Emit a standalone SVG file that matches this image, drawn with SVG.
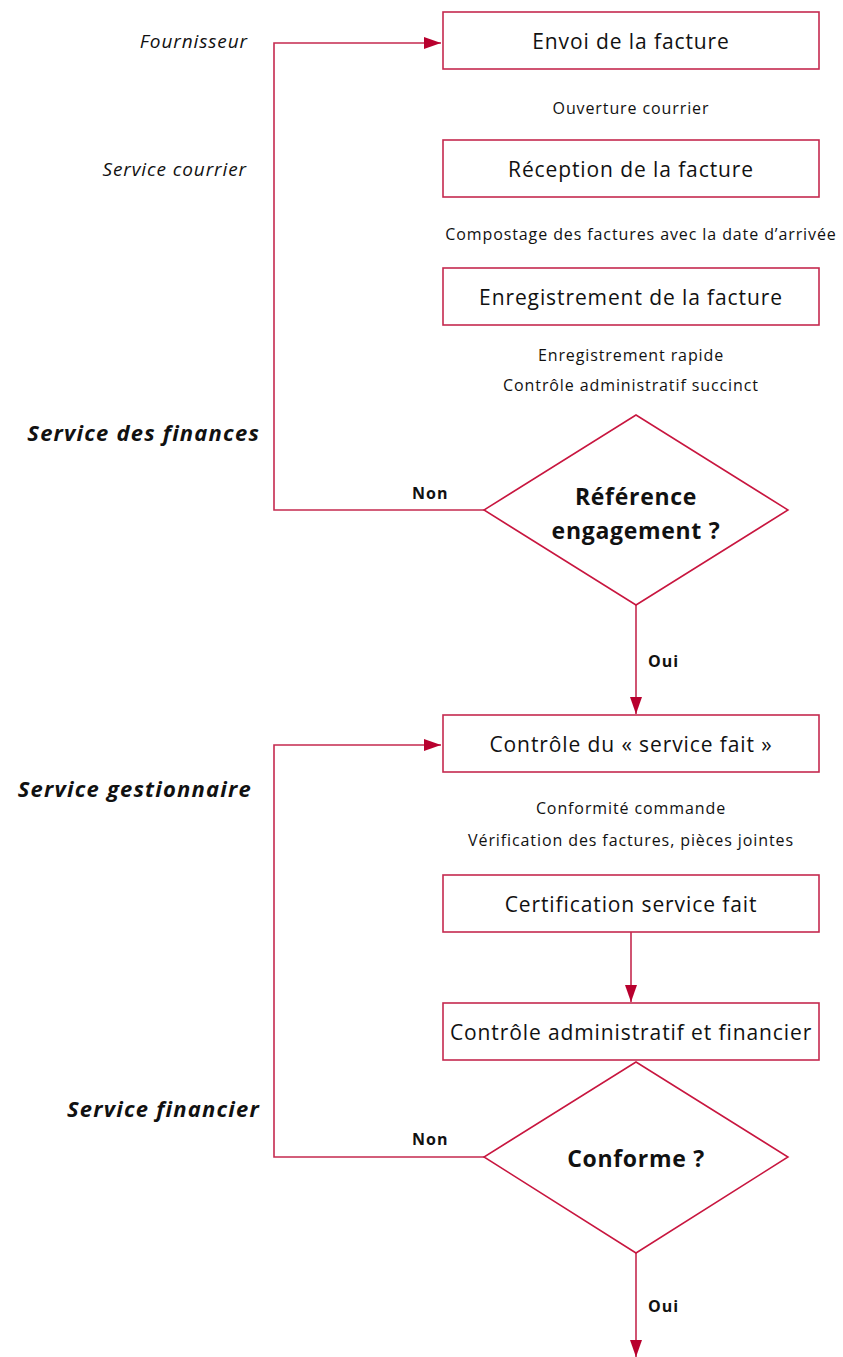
<svg xmlns="http://www.w3.org/2000/svg" width="843" height="1357" viewBox="0 0 843 1357">
<style>
.box{fill:#fff;stroke:#c52a4f;stroke-width:1.6}
.dia{fill:#fff;stroke:#c8163f;stroke-width:1.5}
.ln{fill:none;stroke:#c52a4f;stroke-width:1.6}
.bt{font-family:"Open Sans","Noto Sans","Liberation Sans",sans-serif;font-weight:400;font-size:21px;letter-spacing:0.9px;fill:#111;text-anchor:middle}
.st{font-family:"Open Sans","Noto Sans","Liberation Sans",sans-serif;font-weight:400;font-size:16px;letter-spacing:0.9px;fill:#111;text-anchor:middle}
.dt{font-family:"Open Sans","Noto Sans","Liberation Sans",sans-serif;font-weight:700;font-size:23px;letter-spacing:0.7px;fill:#111;text-anchor:middle}
.lb{font-family:"Open Sans","Noto Sans","Liberation Sans",sans-serif;font-weight:700;font-size:16px;letter-spacing:1px;fill:#111}
.li{font-family:"Open Sans","Noto Sans","Liberation Sans",sans-serif;font-style:italic;font-weight:400;font-size:19px;letter-spacing:0.9px;fill:#111;text-anchor:end}
.lbi{font-family:"Open Sans","Noto Sans","Liberation Sans",sans-serif;font-style:italic;font-weight:700;font-size:22px;letter-spacing:1.2px;fill:#111;text-anchor:end}
</style>
<defs>
<marker id="ah" markerWidth="17" markerHeight="12" refX="17" refY="6" orient="auto" markerUnits="userSpaceOnUse">
<path d="M0,0 L17,6 L0,12 Z" fill="#b8002e"/>
</marker>
</defs>
<rect width="843" height="1357" fill="#fff"/>

<g id="lanes">
<text class="li" x="248" y="48">Fournisseur</text>
<text class="li" x="247" y="176">Service courrier</text>
<text class="lbi" x="260" y="441">Service des finances</text>
<text class="lbi" x="252" y="797">Service gestionnaire</text>
<text class="lbi" x="260" y="1117">Service financier</text>
</g>

<g id="connectors">
<polyline class="ln" points="484,510 274,510 274,43 441,43" marker-end="url(#ah)"/>
<line class="ln" x1="636" y1="605" x2="636" y2="714" marker-end="url(#ah)"/>
<polyline class="ln" points="484,1157 274,1157 274,745 441,745" marker-end="url(#ah)"/>
<line class="ln" x1="631" y1="932" x2="631" y2="1002" marker-end="url(#ah)"/>
<line class="ln" x1="636" y1="1253" x2="636" y2="1357" marker-end="url(#ah)"/>
<text class="lb" x="412" y="499">Non</text>
<text class="lb" x="648" y="667">Oui</text>
<text class="lb" x="412" y="1145">Non</text>
<text class="lb" x="648" y="1312">Oui</text>
</g>

<g id="n1">
<rect class="box" x="443" y="12" width="376" height="57"/>
<text class="bt" x="631" y="49">Envoi de la facture</text>
</g>
<text class="st" x="631" y="114">Ouverture courrier</text>
<g id="n2">
<rect class="box" x="443" y="140" width="376" height="57"/>
<text class="bt" x="631" y="177">Réception de la facture</text>
</g>
<text class="st" x="641" y="240">Compostage des factures avec la date d’arrivée</text>
<g id="n3">
<rect class="box" x="443" y="268" width="376" height="57"/>
<text class="bt" x="631" y="305">Enregistrement de la facture</text>
</g>
<text class="st" x="631" y="361">Enregistrement rapide</text>
<text class="st" x="631" y="391">Contrôle administratif succinct</text>

<g id="d1">
<polygon class="dia" points="636,415 788,510 636,605 484,510"/>
<text class="dt" x="636" y="505">Référence</text>
<text class="dt" x="636" y="539">engagement ?</text>
</g>

<g id="n4">
<rect class="box" x="443" y="715" width="376" height="57"/>
<text class="bt" x="631" y="752">Contrôle du « service fait »</text>
</g>
<text class="st" x="631" y="814">Conformité commande</text>
<text class="st" x="631" y="846">Vérification des factures, pièces jointes</text>
<g id="n5">
<rect class="box" x="443" y="875" width="376" height="57"/>
<text class="bt" x="631" y="912">Certification service fait</text>
</g>
<g id="n6">
<rect class="box" x="443" y="1003" width="376" height="57"/>
<text class="bt" x="631" y="1040">Contrôle administratif et financier</text>
</g>
<g id="d2">
<polygon class="dia" points="636,1062 788,1157 636,1253 484,1157"/>
<text class="dt" x="636" y="1167">Conforme ?</text>
</g>
</svg>
